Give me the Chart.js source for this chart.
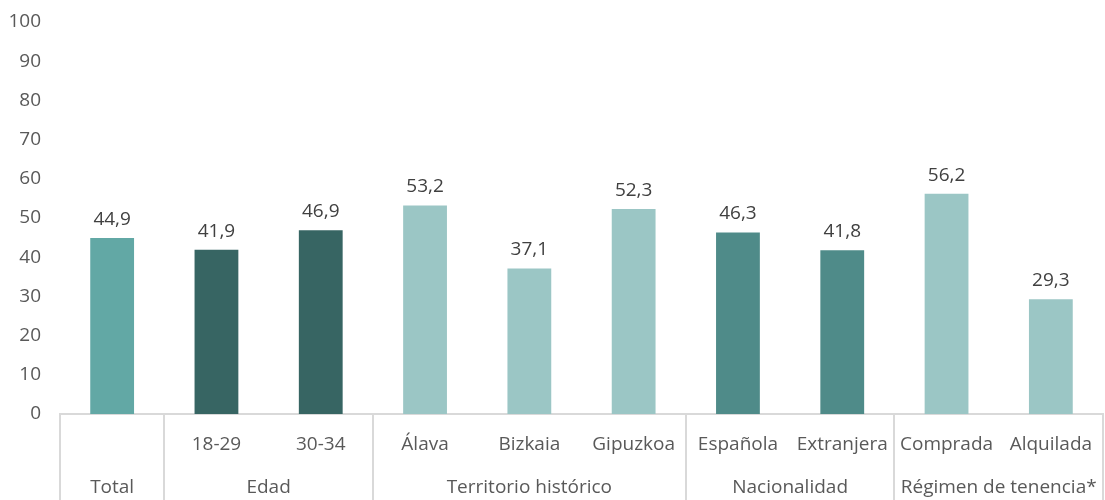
<!DOCTYPE html>
<html>
<head>
<meta charset="utf-8">
<script src="https://cdn.jsdelivr.net/npm/chart.js@4"></script>
<style>
  html, body { margin: 0; padding: 0; background: #fff; }
  #wrap { width: 1105px; height: 500px; }
</style>
</head>
<body>
<div id="wrap"><canvas id="c" width="1105" height="500"></canvas></div>
<script>
const categories = ['Total', '18-29', '30-34', 'Álava', 'Bizkaia', 'Gipuzkoa', 'Española', 'Extranjera', 'Comprada', 'Alquilada'];
const values = [44.9, 41.9, 46.9, 53.2, 37.1, 52.3, 46.3, 41.8, 56.2, 29.3];
const groups = ['Total', 'Edad', 'Territorio histórico', 'Nacionalidad', 'Régimen de tenencia*'];
const groupStart = [0, 1, 3, 6, 8];
const groupColors = ['#62a8a5', '#376563', '#9bc6c5', '#4f8b89', '#9bc6c5'];

const barColors = categories.map((c, i) => {
    const g = groupStart.findLastIndex(s => s <= i);
    return groupColors[g];
});

const FONT = '"Open Sans", sans-serif';
const TXT = '#595959';

const extras = {
    id: 'extras',
    afterDraw(chart) {
        const ctx = chart.ctx;
        const x = chart.scales.x;
        const area = chart.chartArea;
        const H = chart.height;
        ctx.save();

        // value labels
        const meta = chart.getDatasetMeta(0);
        ctx.fillStyle = '#404040';
        ctx.font = '19px ' + FONT;
        ctx.textAlign = 'center';
        ctx.textBaseline = 'bottom';
        meta.data.forEach((bar, i) => {
            ctx.fillText(values[i].toFixed(1).replace('.', ','), bar.x, bar.y - 9);
        });

        // group separators
        ctx.strokeStyle = '#d9d9d9';
        ctx.lineWidth = 2;
        const bounds = [area.left];
        for (let g = 1; g < groups.length; g++) {
            const b = groupStart[g];
            bounds.push((x.getPixelForValue(b - 1) + x.getPixelForValue(b)) / 2);
        }
        bounds.push(area.right);
        bounds.forEach(bx => {
            ctx.beginPath();
            ctx.moveTo(Math.round(bx), area.bottom);
            ctx.lineTo(Math.round(bx), H);
            ctx.stroke();
        });

        // group labels
        ctx.fillStyle = TXT;
        ctx.font = '19px ' + FONT;
        ctx.textBaseline = 'middle';
        groups.forEach((g, i) => {
            const cx = (bounds[i] + bounds[i + 1]) / 2;
            ctx.fillText(g, cx, 488);
        });
        ctx.restore();
    }
};

new Chart(document.getElementById('c'), {
    type: 'bar',
    data: {
        labels: categories,
        datasets: [{
            data: values,
            backgroundColor: barColors,
            borderWidth: 0,
            categoryPercentage: 1,
            barPercentage: 0.42
        }]
    },
    options: {
        responsive: false,
        animation: false,
        layout: { padding: { top: 22, right: 2, left: 0, bottom: 0 } },
        plugins: {
            legend: { display: false },
            tooltip: { enabled: false }
        },
        scales: {
            x: {
                grid: { display: false, drawTicks: false },
                border: { display: true, color: '#d9d9d9', width: 2 },
                ticks: {
                    color: TXT,
                    font: { family: FONT, size: 19 },
                    padding: 19,
                    maxRotation: 0,
                    autoSkip: false,
                    callback: (v, i) => i === 0 ? '' : categories[i]
                },
                afterFit: s => {
                    s.height = 86;
                    s.paddingLeft = 0;
                    s.paddingRight = 0;
                }
            },
            y: {
                min: 0,
                max: 100,
                grid: { display: false, drawTicks: false },
                border: { display: false },
                ticks: {
                    stepSize: 10,
                    color: TXT,
                    font: { family: FONT, size: 19 },
                    padding: 19
                },
                afterFit: s => {
                    s.width = 60;
                    s.paddingTop = 0;
                    s.paddingBottom = 0;
                }
            }
        }
    },
    plugins: [extras]
});
</script>
</body>
</html>
